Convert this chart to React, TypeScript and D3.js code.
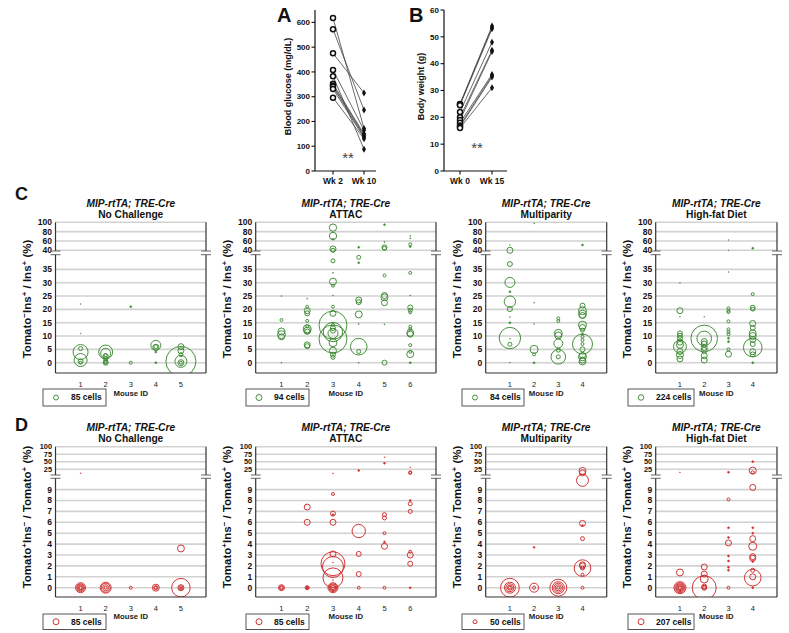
import React from 'react';
import * as d3 from 'd3';

// ---------- Panel A / B data ----------
const glucoseLabels = ['Wk 2', 'Wk 10'];
const glucoseWk2 = [618, 572, 475, 408, 383, 352, 345, 340, 331, 296];
const glucoseWk10 = [172, 246, 315, 165, 88, 150, 145, 140, 135, 130];
const glucoseTicks = [0, 100, 200, 300, 400, 500, 600];

const weightLabels = ['Wk 0', 'Wk 15'];
const weightWk0 = [25, 24.8, 24.5, 22, 20, 19, 18, 17, 16.5, 16];
const weightWk15 = [54, 53.5, 53, 48, 45, 44.5, 36, 35.5, 35, 31];
const weightTicks = [0, 10, 20, 30, 40, 50, 60];

// ---------- Panel C / D data: [mouse, percent, cells] ----------
type Pt = [number, number, number];
const groupTitles = ['No Challenge', 'ATTAC', 'Multiparity', 'High-fat Diet'];
const mouseCounts = [5, 6, 4, 4];
const legendCellsC = [85, 94, 84, 224];
const legendCellsD = [85, 85, 50, 207];
const upperTicksC = [40, 60, 80, 100];
const lowerTicksC = [0, 5, 10, 15, 20, 25, 30, 35];
const upperTicksD = [25, 50, 75, 100];
const lowerTicksD = [0, 1, 2, 3, 4, 5, 6, 7, 8, 9];

const cNoChallenge: Pt[] = [
  [1, 22, 3], [1, 11, 3], [1, 4, 765], [1, 1, 575], [1, 5.3, 54], [1, 0, 31], [1, 0.5, 85],
  [2, 4, 666], [2, 3.5, 340], [2, 2.5, 85], [2, 2.8, 31], [2, 1.5, 54], [2, 0.5, 54], [2, 0, 31], [2, 0, 85],
  [3, 21, 14], [3, 0, 31],
  [4, 6.5, 340], [4, 5.8, 122], [4, 6, 54], [4, 4, 14], [4, 0, 14],
  [5, 0.5, 3060], [5, 6, 122], [5, 4.5, 122], [5, 3, 54], [5, 0, 122], [5, 0, 31], [5, 0.5, 490],
];
const cAttac: Pt[] = [
  [1, 25, 3], [1, 16, 23], [1, 11.7, 127], [1, 10.5, 166], [1, 9.7, 94], [1, 0, 3],
  [2, 24, 3], [2, 21, 23], [2, 19.5, 94], [2, 18.5, 65], [2, 15.7, 23], [2, 13.7, 23], [2, 12.7, 166], [2, 12, 127], [2, 11.7, 65], [2, 6.7, 94], [2, 6.2, 65],
  [3, 88.6, 140], [3, 70.7, 140], [3, 63.6, 10], [3, 42.9, 94], [3, 40, 42], [3, 38.2, 42], [3, 33.7, 3], [3, 30.4, 127], [3, 28.9, 23], [3, 25.2, 3], [3, 21, 23], [3, 18.5, 94],
  [3, 14.1, 2040], [3, 8.9, 2040], [3, 11.5, 978], [3, 11, 260], [3, 7.5, 166], [3, 4.5, 127], [3, 2, 42], [3, 13, 65], [3, 14.2, 23], [3, 12, 65], [3, 3, 65],
  [4, 46.4, 10], [4, 39.5, 42], [4, 37.5, 10], [4, 23.5, 94], [4, 22.7, 65], [4, 18.1, 127], [4, 14.5, 3], [4, 6, 720], [4, 4.2, 42], [4, 0, 3],
  [5, 95, 10], [5, 57.9, 3], [5, 46.4, 65], [5, 44.3, 42], [5, 32.7, 23], [5, 25.2, 94], [5, 24.5, 127], [5, 22.5, 94], [5, 14.4, 3], [5, 0, 65],
  [6, 70.7, 3], [6, 65.7, 3], [6, 52.9, 23], [6, 47.9, 10], [6, 33.7, 23], [6, 25.2, 3], [6, 20.7, 65], [6, 19.7, 42], [6, 18.9, 23], [6, 13.5, 23], [6, 12.6, 23], [6, 11.2, 127], [6, 10.7, 94], [6, 6.6, 23], [6, 4.1, 23], [6, 3.2, 127], [6, 0, 10],
];
const cMultiparity: Pt[] = [
  [1, 51.4, 3], [1, 40, 121], [1, 37, 84], [1, 30.1, 335], [1, 26.6, 13], [1, 22.9, 435], [1, 20.1, 84], [1, 17.1, 3], [1, 15, 13], [1, 9, 3], [1, 9.25, 1530], [1, 6.9, 54], [1, 0, 3],
  [2, 97.8, 3], [2, 22.5, 3], [2, 14.5, 3], [2, 5, 214], [2, 3.1, 30], [2, 0, 13],
  [3, 16.6, 30], [3, 15.6, 30], [3, 11, 214], [3, 10.2, 164], [3, 7.2, 271], [3, 4.7, 54], [3, 2.2, 714], [3, 2.2, 54],
  [4, 51.4, 13], [4, 21.4, 84], [4, 19.5, 214], [4, 18.2, 214], [4, 17.7, 121], [4, 14.1, 214], [4, 13.2, 121], [4, 12.2, 54], [4, 10.7, 13], [4, 9.7, 30], [4, 8.5, 30], [4, 7, 30], [4, 7, 1340], [4, 5, 84], [4, 2.7, 121], [4, 2.2, 214], [4, 1, 121], [4, 0.5, 164],
];
const cHighFat: Pt[] = [
  [1, 29.9, 7], [1, 19.5, 266], [1, 17.2, 7], [1, 11, 185], [1, 10.1, 185], [1, 9.1, 185], [1, 7.7, 266], [1, 6.7, 363], [1, 6, 1250], [1, 4.2, 266], [1, 2.9, 363], [1, 1.4, 266],
  [2, 17.2, 7], [2, 9.1, 5240], [2, 9.1, 1580], [2, 7.9, 266], [2, 7, 266], [2, 5.7, 266], [2, 4.7, 266], [2, 2.6, 266], [2, 1, 266],
  [3, 62, 7], [3, 40, 7], [3, 34, 7], [3, 20.4, 67], [3, 19.5, 67], [3, 19, 67], [3, 15.5, 67], [3, 12.5, 67], [3, 11.6, 67], [3, 10.7, 67], [3, 9.2, 30], [3, 7.9, 30], [3, 5, 67], [3, 3.2, 266],
  [4, 44.3, 30], [4, 25.7, 67], [4, 20.6, 185], [4, 20.1, 118], [4, 14.7, 266], [4, 13.1, 185], [4, 11, 363], [4, 10, 363], [4, 8.7, 266], [4, 7, 185], [4, 5.7, 2560], [4, 4.1, 266], [4, 3.1, 185], [4, 0, 30],
];
const dNoChallenge: Pt[] = [
  [1, 12, 2], [1, 0, 235], [1, 0, 150], [1, 0, 85], [1, 0, 38], [1, 0, 21],
  [2, 0, 285], [2, 0, 190], [2, 0, 85], [2, 0, 21],
  [3, 0, 21],
  [4, 0, 115], [4, 0, 38], [4, 0, 21],
  [5, 3.6, 115], [5, 0, 810], [5, 0, 85], [5, 0, 38], [5, 0, 9],
];
const dAttac: Pt[] = [
  [1, 0, 85], [1, 0, 38], [1, 0, 21],
  [2, 7.4, 85], [2, 6, 85], [2, 0, 38], [2, 0, 21], [2, 0, 9],
  [3, 11.7, 2], [3, 8.6, 21], [3, 6.8, 59], [3, 6.7, 9], [3, 6, 85], [3, 3.1, 85], [3, 2.2, 1350], [3, 1.9, 1040], [3, 0.9, 940], [3, 0, 235], [3, 0, 150], [3, 0, 85], [3, 0, 38], [3, 2.3, 2], [3, 0.7, 2],
  [4, 21, 9], [4, 5.2, 420], [4, 3.1, 59], [4, 1.25, 59], [4, 0, 21],
  [5, 65, 2], [5, 45, 9], [5, 6.7, 38], [5, 6.4, 38], [5, 5, 21], [5, 4.2, 9], [5, 3.8, 85], [5, 0, 21],
  [6, 31.6, 2], [6, 15, 21], [6, 13, 21], [6, 8, 9], [6, 7.7, 38], [6, 7, 38], [6, 3.3, 21], [6, 3, 85], [6, 2.2, 59], [6, 0, 9],
];
const dMultiparity: Pt[] = [
  [1, 0, 1100], [1, 0, 378], [1, 0, 200], [1, 0, 78], [1, 0, 28],
  [2, 3.7, 12], [2, 0, 253], [2, 0, 28],
  [3, 0, 903], [3, 0, 450], [3, 0, 253], [3, 0, 112], [3, 0, 28],
  [4, 19.5, 153], [4, 13, 112], [4, 9.85, 450], [4, 5.9, 112], [4, 5.7, 12], [4, 4.5, 50], [4, 2.1, 112], [4, 2, 112], [4, 1.8, 860], [4, 1.8, 50], [4, 1.2, 28], [4, 0, 28],
];
const dHighFat: Pt[] = [
  [1, 15, 5], [1, 1.4, 282], [1, 0, 828], [1, 0, 575], [1, 0, 368], [1, 0, 207], [1, 0, 92], [1, 0, 52],
  [2, 1.9, 207], [2, 1.25, 207], [2, 0.8, 368], [2, 0, 3310], [2, 0, 144], [2, 0, 52], [2, 0.1, 144],
  [3, 15, 23], [3, 8.1, 52], [3, 5.5, 23], [3, 4.6, 23], [3, 4.1, 207], [3, 2.9, 23], [3, 2.45, 23], [3, 1.87, 23], [3, 1.6, 23], [3, 0, 52],
  [4, 50.4, 23], [4, 20.6, 282], [4, 15, 52], [4, 9.2, 207], [4, 5.5, 23], [4, 5, 23], [4, 4.5, 207], [4, 3.8, 368], [4, 2.85, 207], [4, 2.7, 207], [4, 2.4, 23], [4, 1.6, 92], [4, 0.92, 1590], [4, 1, 207], [4, 0, 23],
];

const dataC = [cNoChallenge, cAttac, cMultiparity, cHighFat];
const dataD = [dNoChallenge, dAttac, dMultiparity, dHighFat];

// ---------- layout (not data) ----------
const FONT = 'Liberation Sans, Arial, Helvetica, sans-serif';
const GREEN = '#3b8a30';
const RED = '#d02a2a';
const GRID = '#d2d2d2';
const AXIS = '#333';

const cols = [
  { left: 55.5, right: 206, legX: 43, legW: 63, legR: [2.5, 3] },
  { left: 255.7, right: 436, legX: 246, legW: 63, legR: [3, 3] },
  { left: 485.7, right: 606.7, legX: 462, legW: 62, legR: [2.5, 2] },
  { left: 655.7, right: 777, legX: 628, legW: 66, legR: [2.75, 3] },
];

const rows = [
  {
    data: dataC, color: GREEN, legendCells: legendCellsC,
    top: 222.3, upperDomain: [40, 100], upperRange: [250.3, 222.3],
    lowerDomain: [0, 35], lowerRange: [362.7, 362.7 - 35 * 2.667],
    threshold: 39.9, upperTicks: upperTicksC, lowerTicks: lowerTicksC, upperFont: 8.5,
    break1: 251, break2: 254.7, bottom: 373,
    title1: 207, title2: 218, tickY: 387, idY: 395.5, legY: 389, legH: 17, labelY: 299,
    minusFirst: true, letter: 'C', letterY: 200,
  },
  {
    data: dataD, color: RED, legendCells: legendCellsD,
    top: 446.7, upperDomain: [25, 100], upperRange: [469.3, 446.7],
    lowerDomain: [0, 9], lowerRange: [587.7, 587.7 - 9 * 10.9],
    threshold: 10.3, upperTicks: upperTicksD, lowerTicks: lowerTicksD, upperFont: 7.4,
    break1: 475, break2: 478.3, bottom: 597,
    title1: 431, title2: 442, tickY: 610.5, idY: 619, legY: 614, legH: 15.5, labelY: 517,
    minusFirst: false, letter: 'D', letterY: 431,
  },
];

function YLabel({ x, y, minusFirst }: { x: number; y: number; minusFirst: boolean }) {
  const sup = { baselineShift: 'super', fontSize: '8px' } as any;
  return (
    <text transform={`translate(${x},${y}) rotate(-90)`} textAnchor="middle" fontFamily={FONT}
      fontWeight="bold" fontSize={11.5} fill="#111">
      {minusFirst ? (
        <>
          <tspan>Tomato</tspan><tspan style={sup}>−</tspan><tspan>Ins</tspan>
          <tspan style={sup}>+</tspan><tspan> / Ins</tspan><tspan style={sup}>+</tspan><tspan> (%)</tspan>
        </>
      ) : (
        <>
          <tspan>Tomato</tspan><tspan style={sup}>+</tspan><tspan>Ins</tspan>
          <tspan style={sup}>−</tspan><tspan> / Tomato</tspan><tspan style={sup}>+</tspan><tspan> (%)</tspan>
        </>
      )}
    </text>
  );
}

function BubblePanel({ ri, ci }: { ri: number; ci: number }) {
  const row = rows[ri];
  const col = cols[ci];
  const data: Pt[] = row.data[ci];
  const n = mouseCounts[ci];
  const x = d3.scaleLinear().domain([0, n + 1]).range([col.left, col.right]);
  const yU = d3.scaleLinear().domain(row.upperDomain).range(row.upperRange);
  const yL = d3.scaleLinear().domain(row.lowerDomain).range(row.lowerRange);
  const y = (v: number) => (v > row.threshold ? yU(v) : yL(v));
  const legendCells = row.legendCells[ci];
  const legR = col.legR[ri];
  const r = d3.scaleSqrt().domain([0, legendCells]).range([0, legR]);
  const cx = (col.left + col.right) / 2;
  const mice = d3.range(1, n + 1);
  const sorted = [...data].sort((a, b) => b[2] - a[2]);
  const clipId = `clip-${ri}-${ci}`;
  return (
    <g>
      <defs>
        <clipPath id={clipId}>
          <rect x={col.left - 30} y={row.top - 14} width={col.right - col.left + 60} height={row.bottom - row.top + 14} />
        </clipPath>
      </defs>
      {row.upperTicks.map((t) => (
        <line key={'gu' + t} x1={col.left} x2={col.right} y1={yU(t)} y2={yU(t)} stroke={GRID} strokeWidth={1.6} />
      ))}
      {row.lowerTicks.map((t) => (
        <line key={'gl' + t} x1={col.left} x2={col.right} y1={yL(t)} y2={yL(t)} stroke={GRID} strokeWidth={1.6} />
      ))}
      {row.upperTicks.map((t) => (
        <text key={'tu' + t} x={col.left - 3.5} y={yU(t)} dy="0.35em" textAnchor="end" fontFamily={FONT}
          fontWeight="bold" fontSize={row.upperFont} fill="#111">{t}</text>
      ))}
      {row.lowerTicks.map((t) => (
        <text key={'tl' + t} x={col.left - 3.5} y={yL(t)} dy="0.35em" textAnchor="end" fontFamily={FONT}
          fontWeight="bold" fontSize={8.5} fill="#111">{t}</text>
      ))}
      <g clipPath={`url(#${clipId})`}>
        {sorted.map((d, i) => {
          const rr = r(d[2]);
          return (
            <circle key={i} cx={x(d[0])} cy={y(d[1])} r={Math.max(rr, 0.45)} fill={rr < 1.3 ? row.color : 'none'}
              stroke={row.color} strokeWidth={rr < 1.3 ? 0.5 : 0.95} />
          );
        })}
      </g>
      {[col.left, col.right].map((ax) => (
        <g key={'ax' + ax}>
          <line x1={ax} x2={ax} y1={row.top} y2={row.break1} stroke={AXIS} strokeWidth={1.2} />
          <line x1={ax} x2={ax} y1={row.break2} y2={row.bottom} stroke={AXIS} strokeWidth={1.2} />
          <line x1={ax - 5} x2={ax + 5} y1={row.break1} y2={row.break1} stroke="#555" strokeWidth={0.9} />
          <line x1={ax - 5} x2={ax + 5} y1={row.break2} y2={row.break2} stroke="#555" strokeWidth={0.9} />
        </g>
      ))}
      <line x1={col.left} x2={col.right} y1={row.bottom} y2={row.bottom} stroke={AXIS} strokeWidth={1.2} />
      {mice.map((m) => (
        <text key={'m' + m} x={x(m)} y={row.tickY} textAnchor="middle" fontFamily={FONT} fontSize={7.5} fill="#222">{m}</text>
      ))}
      <text x={cx} y={row.idY} textAnchor="middle" fontFamily={FONT} fontWeight="bold" fontSize={7.8} fill="#222">Mouse ID</text>
      <text x={cx} y={row.title1} textAnchor="middle" fontFamily={FONT} fontWeight="bold" fontStyle="italic" fontSize={10.2} fill="#111">MIP-rtTA; TRE-Cre</text>
      <text x={cx} y={row.title2} textAnchor="middle" fontFamily={FONT} fontWeight="bold" fontSize={10.2} fill="#111">{groupTitles[ci]}</text>
      <YLabel x={col.left - 25} y={row.labelY} minusFirst={row.minusFirst} />
      <rect x={col.legX} y={row.legY} width={col.legW} height={row.legH} fill="white" stroke="#444" strokeWidth={0.9} />
      <circle cx={col.legX + 13} cy={row.legY + row.legH / 2} r={r(legendCells)} fill="none" stroke={row.color} strokeWidth={0.95} />
      <text x={col.legX + 28} y={row.legY + row.legH / 2} dy="0.35em" fontFamily={FONT} fontWeight="bold" fontSize={8.5} fill="#111">{legendCells} cells</text>
    </g>
  );
}

function PairedPanel({ axisX, axisEnd, labels, before, after, ticks, yMax, labelText, labelX, letter, letterX, starX, starY, catRange }: any) {
  const y = d3.scaleLinear().domain([0, yMax]).range([171, 10]);
  const x = d3.scalePoint<string>().domain(labels).range(catRange);
  const sym = d3.symbol(d3.symbolDiamond, 14)();
  return (
    <g>
      <line x1={axisX} x2={axisX} y1={y(yMax)} y2={y(0)} stroke="#111" strokeWidth={1.2} />
      <line x1={axisX} x2={axisEnd} y1={y(0)} y2={y(0)} stroke="#111" strokeWidth={1.2} />
      {ticks.map((t: number) => (
        <g key={t}>
          <line x1={axisX - 3.5} x2={axisX} y1={y(t)} y2={y(t)} stroke="#111" strokeWidth={1.1} />
          <text x={axisX - 5} y={y(t)} dy="0.35em" textAnchor="end" fontFamily={FONT} fontWeight="bold" fontSize={8} fill="#111">{t}</text>
        </g>
      ))}
      {labels.map((l: string) => (
        <g key={l}>
          <line x1={x(l)} x2={x(l)} y1={y(0)} y2={y(0) + 3.5} stroke="#111" strokeWidth={1.1} />
          <text x={x(l)} y={y(0) + 13} textAnchor="middle" fontFamily={FONT} fontWeight="bold" fontSize={8.5} fill="#111">{l}</text>
        </g>
      ))}
      {before.map((b: number, i: number) => (
        <line key={'l' + i} x1={x(labels[0])} y1={y(b)} x2={x(labels[1])} y2={y(after[i])} stroke="#444" strokeWidth={0.8} />
      ))}
      {before.map((b: number, i: number) => (
        <circle key={'c' + i} cx={x(labels[0])} cy={y(b)} r={2.5} fill="white" stroke="#111" strokeWidth={1.5} />
      ))}
      {after.map((a: number, i: number) => (
        <path key={'d' + i} d={sym as string} transform={`translate(${x(labels[1])},${y(a)})`} fill="#111" />
      ))}
      <text transform={`translate(${labelX},${y(yMax / 2) - 4}) rotate(-90)`} textAnchor="middle" fontFamily={FONT}
        fontWeight="bold" fontSize={9} fill="#111">{labelText}</text>
      <text x={letterX} y={22} fontFamily={FONT} fontWeight="bold" fontSize={20} fill="#111">{letter}</text>
      <text x={starX} y={starY} textAnchor="middle" fontFamily={FONT} fontSize={15} fill="#444">**</text>
    </g>
  );
}

export default function App() {
  return (
    <svg width={789} height={633} style={{ position: 'absolute', left: 0, top: 0, background: 'white' }}>
      <rect width={789} height={633} fill="white" />
      <PairedPanel axisX={315} axisEnd={376} labels={glucoseLabels} before={glucoseWk2} after={glucoseWk10}
        ticks={glucoseTicks} yMax={650} labelText="Blood glucose (mg/dL)" labelX={291} letter="A" letterX={277}
        starX={348} starY={163} catRange={[333, 364]} />
      <PairedPanel axisX={444} axisEnd={507} labels={weightLabels} before={weightWk0} after={weightWk15}
        ticks={weightTicks} yMax={60} labelText="Body weight (g)" labelX={424} letter="B" letterX={409}
        starX={477} starY={153} catRange={[460, 492]} />
      {rows.map((row, ri) => (
        <g key={ri}>
          <text x={15} y={row.letterY} fontFamily={FONT} fontWeight="bold" fontSize={18} fill="#111">{row.letter}</text>
          {cols.map((_, ci) => <BubblePanel key={ci} ri={ri} ci={ci} />)}
        </g>
      ))}
    </svg>
  );
}
